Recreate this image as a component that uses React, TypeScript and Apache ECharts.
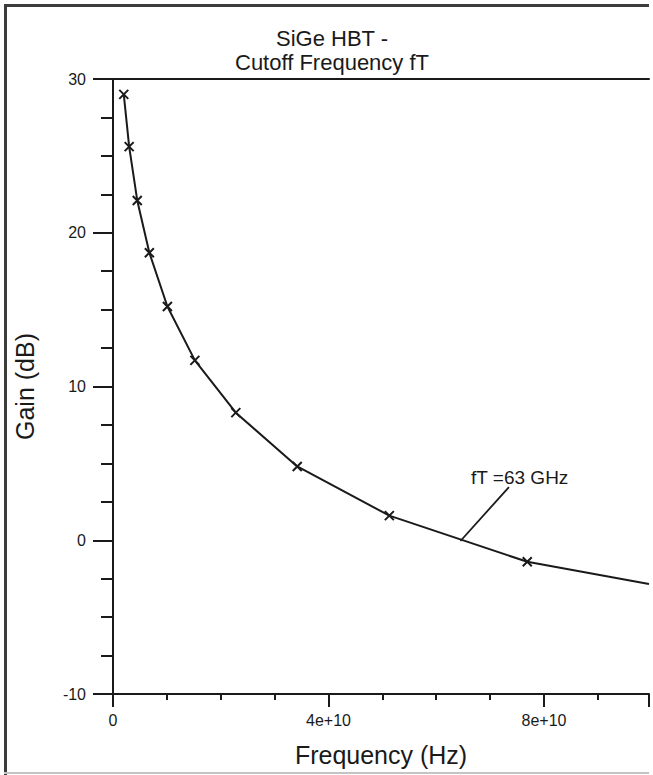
import React, { useEffect, useRef } from "react";
import * as echarts from "echarts";

// Frequency (Hz) of each marked sample
const frequencies = [2.0e9, 3.0e9, 4.5e9, 6.75e9, 1.01e10, 1.52e10, 2.28e10, 3.42e10, 5.13e10, 7.69e10];
// Gain (dB) of each marked sample
const gains = [29.0, 25.6, 22.1, 18.7, 15.2, 11.7, 8.3, 4.8, 1.6, -1.4];
// Curve continues (no marker) to the right edge
const curveEndFreq = [9.95e10];
const curveEndGain = [-2.85];

const xTickValues = [0, 4e10, 8e10];
const xTickLabels = ["0", "4e+10", "8e+10"];

const titleLines = ["SiGe HBT -", "Cutoff Frequency fT"];
const xAxisName = "Frequency (Hz)";
const yAxisName = "Gain (dB)";

const annotationText = "fT =63 GHz";
const annotationAnchor = [6.45e10, -0.05];
const annotationElbow = [7.35e10, 3.46];
const annotationLabelAt = [7.55e10, 4.1];

const FONT = "'Liberation Sans', Arial, Helvetica, sans-serif";
const INK = "#1a1a1a";

export default function App() {
  const ref = useRef<HTMLDivElement>(null);

  useEffect(() => {
    document.body.style.margin = "0";
    if (!ref.current) return;
    const chart = echarts.init(ref.current, undefined, { renderer: "svg" });

    const seriesData: any[] = frequencies.map((f, i) => [f, gains[i]]);
    curveEndFreq.forEach((f, i) => {
      seriesData.push({ value: [f, curveEndGain[i]], symbol: "none" });
    });

    const option: any = {
      animation: false,
      backgroundColor: "#ffffff",
      textStyle: { fontFamily: FONT },
      title: {
        text: titleLines.join("\n"),
        left: 327,
        top: 21,
        textAlign: "center",
        textStyle: {
          fontFamily: FONT,
          fontSize: 22,
          fontWeight: "normal",
          color: INK,
          lineHeight: 24,
        },
      },
      graphic: [
        { type: "rect", shape: { x: 4, y: 4, width: 3, height: 771 }, style: { fill: "#3c3c3c" }, silent: true },
        { type: "rect", shape: { x: 4, y: 4, width: 645, height: 3 }, style: { fill: "#3c3c3c" }, silent: true },
        { type: "rect", shape: { x: 4, y: 772, width: 645, height: 2 }, style: { fill: "#c4c4c4" }, silent: true },
      ],
      grid: {
        left: 113,
        right: 4,
        top: 79,
        bottom: 81,
        show: false,
        containLabel: false,
      },
      xAxis: [
        {
          type: "value",
          position: "bottom",
          min: 0,
          max: 9.95e10,
          interval: 4e10,
          name: xAxisName,
          nameLocation: "middle",
          nameGap: 48,
          nameTextStyle: { fontFamily: FONT, fontSize: 25, color: INK },
          axisLine: { show: true, onZero: false, lineStyle: { color: INK, width: 2 } },
          axisTick: { show: true, inside: false, length: 13, lineStyle: { color: INK, width: 2 } },
          minorTick: { show: true, splitNumber: 4, length: 6, lineStyle: { color: INK, width: 2 } },
          splitLine: { show: false },
          minorSplitLine: { show: false },
          axisLabel: {
            margin: 18,
            fontFamily: FONT,
            fontSize: 16,
            color: INK,
            showMaxLabel: false,
            formatter: (v: number) => {
              const idx = xTickValues.indexOf(v);
              return idx >= 0 ? xTickLabels[idx] : "";
            },
          },
        },
        {
          type: "value",
          position: "top",
          min: 0,
          max: 9.95e10,
          axisLine: { show: true, onZero: false, lineStyle: { color: INK, width: 2 } },
          axisTick: { show: false },
          axisLabel: { show: false },
          splitLine: { show: false },
        },
      ],
      yAxis: {
        type: "value",
        min: -10,
        max: 30,
        interval: 10,
        name: yAxisName,
        nameLocation: "middle",
        nameGap: 76,
        nameTextStyle: { fontFamily: FONT, fontSize: 25, color: INK },
        axisLine: { show: true, onZero: false, lineStyle: { color: INK, width: 2 } },
        axisTick: { show: true, inside: false, length: 20, lineStyle: { color: INK, width: 2 } },
        minorTick: { show: true, splitNumber: 4, length: 12, lineStyle: { color: INK, width: 2 } },
        splitLine: { show: false },
        minorSplitLine: { show: false },
        axisLabel: { margin: 27, fontFamily: FONT, fontSize: 16, color: INK },
      },
      series: [
        {
          type: "line",
          data: seriesData,
          smooth: false,
          showAllSymbol: true,
          symbol: "path://M0,0L10,10M10,0L0,10",
          symbolSize: 9,
          itemStyle: { color: "rgba(0,0,0,0)", borderColor: INK, borderWidth: 2 },
          lineStyle: { color: INK, width: 2 },
          clip: true,
          markLine: {
            silent: true,
            symbol: ["none", "none"],
            lineStyle: { color: INK, width: 1.8, type: "solid" },
            label: { show: false },
            data: [[{ coord: annotationAnchor }, { coord: annotationElbow }]],
          },
          markPoint: {
            silent: true,
            symbol: "rect",
            symbolSize: 1,
            itemStyle: { color: "rgba(0,0,0,0)" },
            label: {
              show: true,
              position: "inside",
              formatter: annotationText,
              fontFamily: FONT,
              fontSize: 19,
              color: INK,
            },
            data: [{ coord: annotationLabelAt }],
          },
        },
      ],
    };

    chart.setOption(option);
    return () => chart.dispose();
  }, []);

  return <div ref={ref} style={{ width: 653, height: 775 }} />;
}
